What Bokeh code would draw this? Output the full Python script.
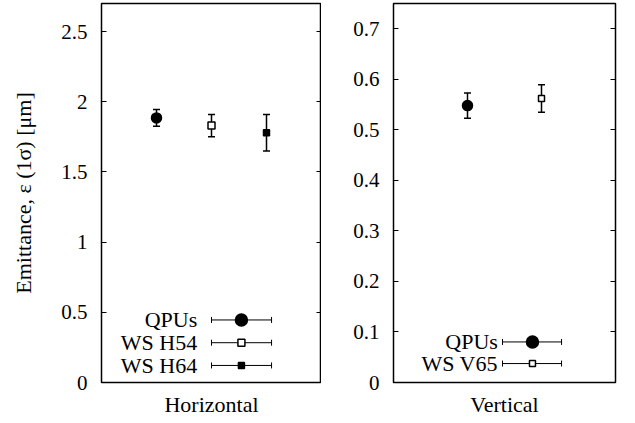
from bokeh.plotting import figure
from bokeh.models import (Whisker, TeeHead, ColumnDataSource, FixedTicker, LinearAxis,
                          Range1d, CustomJSTickFormatter)
from bokeh.layouts import row
from bokeh.embed import file_html
from bokeh.resources import INLINE
from bokeh.core.properties import value

# ---------------- data ----------------
h_names = ["QPUs", "WS H54", "WS H64"]
h_emit = [1.885, 1.83, 1.78]
h_err = [0.06, 0.08, 0.13]

v_names = ["QPUs", "WS V65"]
v_emit = [0.548, 0.562]
v_err = [0.025, 0.027]

h_yticks = [0, 0.5, 1, 1.5, 2, 2.5]
h_ylabels = ["0", "0.5", "1", "1.5", "2", "2.5"]
v_yticks = [0, 0.1, 0.2, 0.3, 0.4, 0.5, 0.6, 0.7]
v_ylabels = ["0", "0.1", "0.2", "0.3", "0.4", "0.5", "0.6", "0.7"]

y_title = "Emittance, \u03b5 (1\u03c3) [\u03bcm]"
h_title = "Horizontal"
v_title = "Vertical"

# ---------------- styles ----------------
FONT = "Liberation Serif"
STYLE = {
    "QPUs": dict(marker="circle", size=10, fill_color="black"),
    "WS H54": dict(marker="square", size=7, fill_color="white"),
    "WS H64": dict(marker="square", size=6, fill_color="black"),
    "WS V65": dict(marker="square", size=6, fill_color="white"),
}
LEGEND_SIZE = {"QPUs": 12}


def make_panel(names, emit, err, yticks, ylabels, ymax, xmax, xlabel,
               fig_w, border_left, border_right, ylabel, leg):
    p = figure(output_backend="svg", toolbar_location=None,
               width=fig_w, height=419,
               x_range=Range1d(0, xmax), y_range=Range1d(0, ymax),
               min_border_left=border_left, min_border_right=border_right,
               min_border_top=3, min_border_bottom=30)
    p.grid.visible = False
    p.outline_line_color = "black"
    p.outline_line_width = 1.5
    p.background_fill_color = "white"
    p.border_fill_color = "white"

    ya = p.yaxis[0]
    ya.ticker = FixedTicker(ticks=yticks)
    ya.major_label_overrides = {t: l for t, l in zip(yticks, ylabels)}
    ya.major_tick_in = 5
    ya.major_tick_out = 0
    ya.minor_tick_line_color = None
    ya.axis_line_color = None
    ya.major_tick_line_width = 1
    ya.major_label_text_font = FONT
    ya.major_label_text_font_size = "21px"
    ya.major_label_text_color = "black"
    ya.major_label_standoff = 14
    if ylabel:
        ya.axis_label = ylabel
        ya.axis_label_text_font = FONT
        ya.axis_label_text_font_size = "22px"
        ya.axis_label_text_font_style = "normal"
        ya.axis_label_text_color = "black"
        ya.axis_label_standoff = 22

    ra = LinearAxis(ticker=FixedTicker(ticks=yticks),
                    formatter=CustomJSTickFormatter(code="return ''"))
    ra.major_tick_in = 5
    ra.major_tick_out = 0
    ra.minor_tick_line_color = None
    ra.axis_line_color = None
    ra.major_label_standoff = 0
    p.add_layout(ra, "right")

    xa = p.xaxis[0]
    xa.ticker = FixedTicker(ticks=[])
    xa.axis_line_color = None
    xa.major_tick_line_color = None
    xa.minor_tick_line_color = None
    xa.axis_label = xlabel
    xa.axis_label_text_font = FONT
    xa.axis_label_text_font_size = "22px"
    xa.axis_label_text_font_style = "normal"
    xa.axis_label_text_color = "black"
    xa.axis_label_standoff = 9

    xs = [i + 1 for i in range(len(names))]
    src = ColumnDataSource(dict(x=xs, y=emit,
                                lo=[e - d for e, d in zip(emit, err)],
                                hi=[e + d for e, d in zip(emit, err)]))
    w = Whisker(source=src, base="x", lower="lo", upper="hi", dimension="height",
                line_color="black", line_width=1.5, level="underlay",
                upper_head=TeeHead(size=7, line_width=1.5, line_color="black"),
                lower_head=TeeHead(size=7, line_width=1.5, line_color="black"))
    p.add_layout(w)
    for n, x, y in zip(names, xs, emit):
        st = STYLE[n]
        p.scatter([x], [y], marker=st["marker"], size=st["size"],
                  fill_color=st["fill_color"], line_color="black", line_width=1.5)

    # legend (gnuplot style: label left, key right)
    tx, k0, k1, km, rows = leg
    rows_y = [r * ymax for r in rows]
    lsrc = ColumnDataSource(dict(y=rows_y,
                                 x0=[k0 * xmax] * len(names),
                                 x1=[k1 * xmax] * len(names)))
    lw = Whisker(source=lsrc, base="y", lower="x0", upper="x1", dimension="width",
                 line_color="black", line_width=1, level="underlay",
                 upper_head=TeeHead(size=6, line_width=1, line_color="black"),
                 lower_head=TeeHead(size=6, line_width=1, line_color="black"))
    p.add_layout(lw)
    for n, y in zip(names, rows_y):
        st = STYLE[n]
        p.scatter([km * xmax], [y], marker=st["marker"],
                  size=LEGEND_SIZE.get(n, st["size"]),
                  fill_color=st["fill_color"], line_color="black", line_width=1.5)
    p.text(x=[tx * xmax] * len(names), y=rows_y, text=names,
           text_align="right", text_baseline="middle",
           text_font=value(FONT), text_font_size="22px", text_color="black")
    return p


left = make_panel(h_names, h_emit, h_err, h_yticks, h_ylabels, 2.7, 4, h_title,
                  321, 101, 0, y_title,
                  (0.435, 0.50, 0.773, 0.636, [0.165, 0.105, 0.045]))
right = make_panel(v_names, v_emit, v_err, v_yticks, v_ylabels, 0.75, 3, v_title,
                   302, 72, 8, None,
                   (0.470, 0.491, 0.757, 0.626, [0.107, 0.050]))

p = row(left, right)
open("out.html", "w").write(file_html(p, INLINE))
